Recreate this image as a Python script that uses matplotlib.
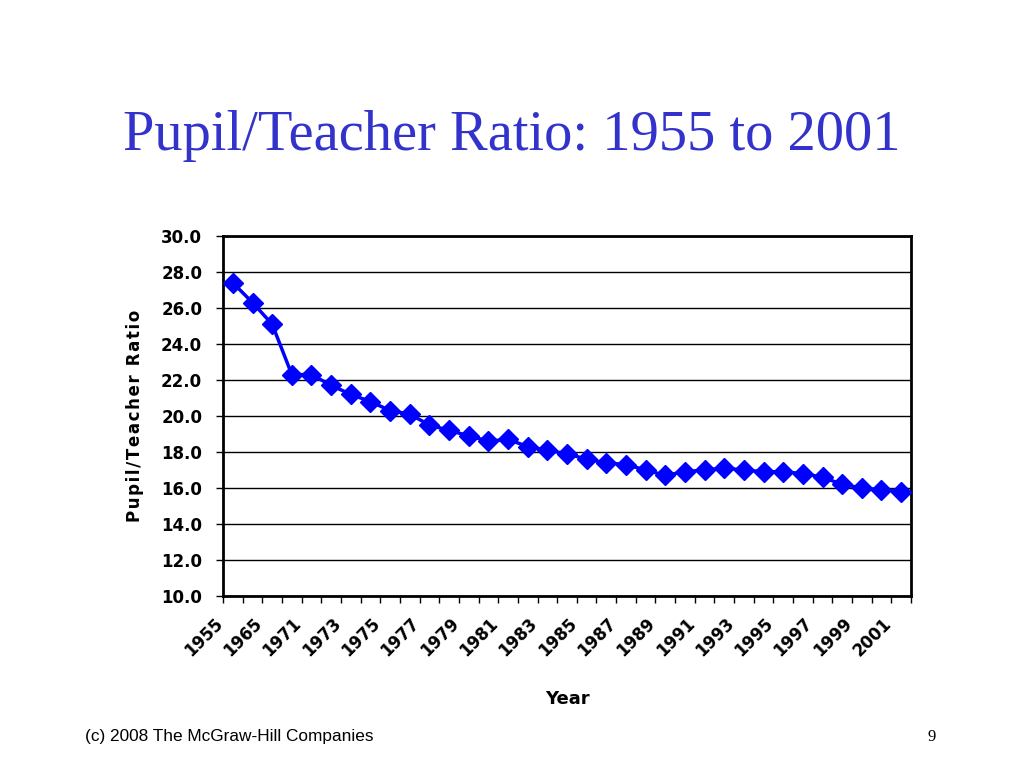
import numpy as np
import matplotlib.pyplot as plt
import matplotlib.transforms as mtransforms

# categories (years) and pupil/teacher ratios
years = ['1955', '1960', '1965'] + [str(y) for y in range(1970, 2002)]
ratio = [27.4, 26.3, 25.1, 22.3, 22.3, 21.7, 21.2, 20.8, 20.3, 20.1,
         19.5, 19.2, 18.9, 18.6, 18.7, 18.3, 18.1, 17.9, 17.6, 17.4,
         17.3, 17.0, 16.7, 16.9, 17.0, 17.1, 17.0, 16.9, 16.9, 16.8,
         16.6, 16.2, 16.0, 15.9, 15.8]
yticks = np.arange(10, 31, 2)

fig = plt.figure(figsize=(10.24, 7.68), dpi=100)
ax = fig.add_axes([0.2178, 0.224, 0.6718, 0.4687])

x = np.arange(len(years))
ax.plot(x, ratio, color='#0000FF', lw=2.5, marker='D', ms=10, zorder=3)

ax.set_xlim(-0.5, len(years) - 0.5)
ax.set_ylim(10, 30)
ax.set_yticks(yticks)
ax.set_yticklabels(['%.1f' % v for v in yticks], fontsize=12, fontweight='bold')
ax.yaxis.grid(True, color='black', lw=1)
ax.set_axisbelow(True)

# ticks at category boundaries, labels on every other category
ax.set_xticks(np.arange(-0.5, len(years), 1.0))
ax.set_xticklabels([])
ax.set_xticks(x[::2], minor=True)
ax.set_xticklabels(years[::2], minor=True, rotation=45, ha='right',
                   rotation_mode='anchor', fontsize=12, fontweight='bold')
ax.tick_params(axis='x', which='minor', length=0, pad=13)
ax.tick_params(axis='x', which='major', length=5, width=1)
ax.tick_params(axis='y', length=5, width=1, pad=10)

shift = mtransforms.ScaledTranslation(-19 / 100, 0, fig.dpi_scale_trans)
for lab in ax.get_xticklabels(minor=True):
    lab.set_transform(lab.get_transform() + shift)

for s in ax.spines.values():
    s.set_linewidth(2)

ylab = '\u200a'.join('Pupil/Teacher Ratio')
ax.set_ylabel(ylab, fontsize=12, fontweight='bold', labelpad=12)
ax.set_xlabel('Year', fontsize=13, fontweight='bold', labelpad=22)

fig.text(0.5, 0.823, 'Pupil/Teacher Ratio: 1955 to 2001', ha='center', va='center',
         fontsize=40.7, color='#3333CC', family='Liberation Serif')
fig.text(0.083, 0.041, '(c) 2008 The McGraw-Hill Companies', ha='left', va='center',
         fontsize=12.4, family='Liberation Sans')
fig.text(0.91, 0.041, '9', ha='center', va='center', fontsize=12,
         family='Liberation Serif')

fig.savefig('out.png', dpi=100)
